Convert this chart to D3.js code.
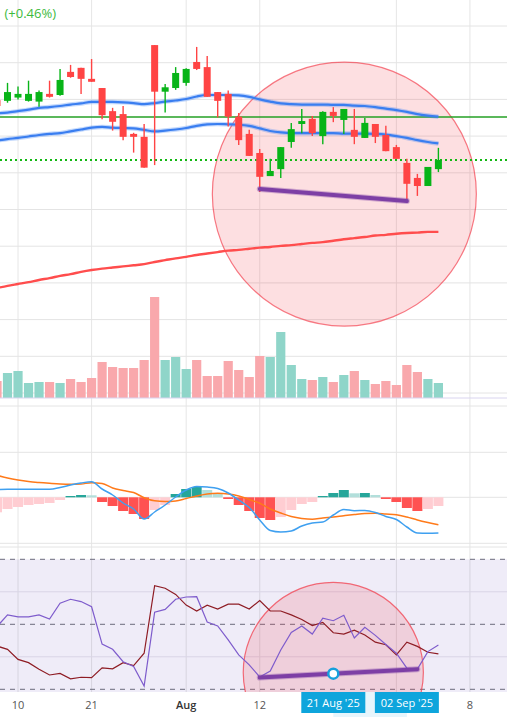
<!DOCTYPE html>
<html>
<head>
<meta charset="utf-8">
<script src="https://cdn.jsdelivr.net/npm/d3@7"></script>
<style>
  body { margin: 0; background: #fff; }
  svg { display: block; font-family: "Open Sans", sans-serif; }
</style>
</head>
<body>
<div id="chart"></div>
<script>
// Trading days on screen (the first one is cut by the left edge).
const dates = [
  "2025-07-08", "2025-07-09", "2025-07-10", "2025-07-11", "2025-07-14", "2025-07-15", "2025-07-16",
  "2025-07-17", "2025-07-18", "2025-07-21", "2025-07-22", "2025-07-23", "2025-07-24", "2025-07-25",
  "2025-07-28", "2025-07-29", "2025-07-30", "2025-07-31", "2025-08-01", "2025-08-04", "2025-08-05",
  "2025-08-06", "2025-08-07", "2025-08-08", "2025-08-11", "2025-08-12", "2025-08-13", "2025-08-14",
  "2025-08-15", "2025-08-18", "2025-08-19", "2025-08-20", "2025-08-21", "2025-08-22", "2025-08-25",
  "2025-08-26", "2025-08-27", "2025-08-28", "2025-08-29", "2025-09-02", "2025-09-03", "2025-09-04",
  "2025-09-05"
];
const open = [179.8, 179.6, 180.5, 179.6, 179.4, 181.5, 181.2, 187.5, 188.6, 185.6, 183.1, 176.8, 176.0, 170.6,
  169.8, 194.8, 182.1, 183.1, 184.5, 190.2, 188.8, 182.0, 181.5, 175.3, 170.6, 165.4, 159.1, 161.0, 168.4,
  173.3, 174.7, 170.0, 176.6, 174.4, 171.7, 169.5, 173.3, 170.3, 167.0, 162.7, 158.6, 156.4, 161.0];
const high = [180.7, 184.5, 183.5, 185.1, 182.4, 185.1, 188.3, 189.4, 188.6, 191.0, 183.1, 177.7, 178.2, 170.9,
  173.3, 194.8, 184.2, 188.8, 188.5, 194.3, 191.8, 182.0, 182.4, 176.3, 171.7, 166.5, 163.8, 167.0, 173.6,
  177.4, 175.5, 176.8, 177.9, 177.4, 177.4, 174.9, 173.3, 172.8, 167.6, 163.8, 159.7, 161.6, 166.8];
const low = [177.7, 179.1, 180.0, 179.4, 178.0, 180.5, 181.0, 185.9, 181.5, 184.8, 174.6, 171.5, 168.9, 165.5,
  161.4, 162.1, 176.4, 182.6, 183.7, 188.0, 180.7, 175.1, 172.6, 167.6, 164.6, 154.8, 159.1, 158.6, 166.8,
  170.8, 170.0, 167.8, 173.8, 170.6, 167.8, 169.5, 168.1, 165.9, 163.8, 152.0, 153.7, 156.4, 160.2];
const close = [178.2, 182.0, 181.5, 181.5, 182.0, 180.7, 185.3, 186.1, 185.6, 184.8, 175.7, 173.9, 169.8, 169.8,
  161.4, 182.1, 183.3, 187.2, 188.3, 188.3, 180.7, 179.6, 175.3, 168.9, 164.6, 158.9, 160.5, 167.0, 171.9,
  174.1, 170.8, 176.6, 175.5, 177.4, 169.8, 173.6, 169.8, 165.9, 163.8, 157.0, 156.4, 161.6, 163.5];
// Volume, millions.
const volume = [3.4, 5.0, 5.4, 3.0, 3.2, 3.2, 3.0, 3.8, 3.2, 4.0, 7.2, 6.2, 6.0, 6.0, 7.6, 20.2, 7.6, 8.2, 5.8,
  7.6, 4.4, 4.4, 7.4, 5.6, 4.2, 8.4, 8.2, 13.2, 6.6, 3.8, 3.6, 4.2, 3.2, 4.6, 5.4, 3.6, 2.8, 3.4, 2.6, 6.6,
  5.2, 3.8, 3.0];
// Envelope bands and long moving average.
const bandUpper = [176.2, 176.4, 176.8, 177.2, 177.7, 177.9, 178.2, 178.6, 178.9, 179.3, 179.3, 179.3, 179.2,
  179.0, 178.7, 179.0, 179.4, 179.7, 180.1, 180.8, 181.2, 181.2, 181.2, 181.1, 180.7, 180.0, 179.4, 178.9,
  178.7, 178.6, 178.6, 178.6, 178.5, 178.5, 178.3, 178.2, 177.9, 177.5, 177.1, 176.6, 176.0, 175.6, 175.3];
const bandLower = [168.8, 169.2, 169.5, 169.9, 170.3, 170.6, 170.8, 171.3, 171.8, 172.3, 172.5, 172.3, 172.2,
  172.1, 171.7, 171.3, 171.5, 171.8, 172.2, 172.8, 173.2, 173.3, 173.2, 173.1, 172.8, 172.1, 171.4, 171.0,
  170.8, 170.8, 170.8, 170.8, 170.8, 170.7, 170.7, 170.7, 170.6, 170.4, 170.0, 169.5, 168.9, 168.4, 168.0];
const maLong = [128.6, 129.2, 129.7, 130.2, 130.8, 131.3, 131.9, 132.4, 133.0, 133.5, 133.9, 134.2, 134.5,
  134.8, 135.1, 135.7, 136.2, 136.7, 137.1, 137.6, 138.0, 138.4, 138.8, 139.0, 139.3, 139.6, 139.8, 140.1,
  140.3, 140.6, 140.9, 141.1, 141.5, 141.9, 142.2, 142.5, 142.9, 143.1, 143.4, 143.6, 143.7, 143.9, 143.9];
// MACD.
const macdLine = [0.78, 0.80, 0.81, 0.81, 0.81, 0.81, 0.98, 1.23, 1.43, 1.56, 0.83, 0.23, -0.57, -1.17, -2.17,
  -1.47, -0.77, 0.03, 0.73, 1.08, 1.03, 0.88, 0.43, -0.27, -1.02, -2.27, -3.32, -3.47, -3.37, -2.87, -2.57,
  -2.47, -1.77, -1.22, -1.34, -1.32, -1.52, -1.92, -2.22, -2.97, -3.57, -3.60, -3.57];
const signalLine = [2.20, 1.93, 1.73, 1.58, 1.48, 1.40, 1.33, 1.30, 1.33, 1.46, 1.38, 0.93, 0.68, 0.48, -0.04,
  -0.35, -0.42, -0.37, -0.12, 0.13, 0.33, 0.40, 0.33, 0.13, -0.22, -0.60, -1.17, -1.57, -1.92, -2.12, -2.20,
  -2.07, -1.97, -1.84, -1.72, -1.62, -1.60, -1.67, -1.74, -1.97, -2.27, -2.52, -2.74];
const macdHist = [-1.50, -1.17, -0.97, -0.77, -0.67, -0.57, -0.27, 0.13, 0.23, 0.20, -0.47, -0.87, -1.37, -1.67,
  -2.17, -1.27, -0.77, 0.33, 0.83, 1.03, 0.73, 0.33, -0.17, -0.77, -1.37, -2.07, -2.27, -1.97, -1.27, -0.67,
  -0.47, 0.13, 0.43, 0.73, 0.40, 0.43, 0.23, -0.17, -0.47, -1.07, -1.37, -1.17, -0.87];
// Oscillator panel.
const rsiLine = [49.3, 52.9, 52.3, 52.3, 52.9, 51.6, 56.5, 57.7, 57.0, 55.4, 43.9, 42.3, 38.5, 37.0, 31.0,
  53.7, 54.6, 57.7, 58.4, 58.5, 50.7, 49.5, 45.2, 40.6, 37.5, 33.8, 35.6, 42.1, 47.5, 49.5, 47.0, 51.9, 51.1,
  52.8, 45.8, 49.1, 46.6, 43.8, 41.1, 36.5, 36.2, 41.6, 43.6];
const oscLine = [43.3, 42.3, 39.2, 38.2, 36.2, 34.4, 34.9, 33.2, 33.7, 33.6, 36.6, 36.3, 38.2, 37.3, 41.1,
  61.9, 61.1, 59.2, 55.9, 54.1, 55.9, 54.7, 56.2, 56.2, 54.7, 57.3, 54.1, 54.1, 52.9, 51.5, 49.6, 50.6, 47.4,
  47.0, 48.2, 46.7, 44.5, 43.7, 40.6, 44.5, 43.2, 41.4, 40.9];

const priceLevel = 175.2;
const lastPrice = 163.5;
const changeText = "(+0.46%)";
// Month gridline under the highlight labels carries no visible text.
const dateTicks = [
  { date: "2025-07-10", label: "10" }, { date: "2025-07-21", label: "21" },
  { date: "2025-08-01", label: "Aug", bold: true }, { date: "2025-08-12", label: "12" },
  { date: "2025-08-29", label: "" }, { date: "2025-09-08", label: "8" }
];
const highlightLabels = [{ date: "2025-08-21", label: "21 Aug '25" }, { date: "2025-09-02", label: "02 Sep '25" }];
const priceTrend = [{ date: "2025-08-12", v: 155.6 }, { date: "2025-09-02", v: 152.3 }];
const rsiTrend = [{ date: "2025-08-12", v: 33.6 }, { date: "2025-09-03", v: 36.2 }];
const priceCircle = { i: 33.05, v: 154.2, edgeI: 20.49 };
const rsiCircle = { i: 32, v: 35.2, edgeI: 23.43 };

const W = 507, H = 717;

// Index of a date; days after the last bar count as calendar days.
const dayIndex = d => {
  const k = dates.indexOf(d);
  if (k >= 0) return k;
  const last = new Date(dates[dates.length - 1]);
  return dates.length - 1 + Math.round((new Date(d) - last) / 864e5);
};

const svg = d3.select("#chart").append("svg")
  .attr("width", W).attr("height", H);

// Scales.
const x = d3.scaleLinear().domain([0, dates.length - 1]).range([-3, 438.4]);
const y = d3.scaleLinear().domain([100, 200]).range([393, 26]);
const yVol = d3.scaleLinear().domain([0, 25]).range([398, 273]);
const yMacd = d3.scaleLinear().domain([-5, 5]).range([547.3, 447.3]);
const yRsi = d3.scaleLinear().domain([30, 70]).range([689.3, 559.3]);
const idx = d3.range(dates.length);

const grid = "#e4e4e4";

// RSI background band.
svg.append("rect")
  .attr("x", 0).attr("y", yRsi(70)).attr("width", W).attr("height", 692 - yRsi(70))
  .attr("fill", "#efecf8");

// Vertical grid.
svg.append("g").selectAll("line")
  .data(dateTicks)
  .join("line")
  .attr("x1", d => x(dayIndex(d.date))).attr("x2", d => x(dayIndex(d.date)))
  .attr("y1", 0).attr("y2", 692)
  .attr("stroke", "rgba(0,0,0,0.1)").attr("stroke-width", 1);

// Horizontal grid, price panel.
svg.append("g").selectAll("line")
  .data(d3.range(100, 201, 10))
  .join("line")
  .attr("x1", 0).attr("x2", W)
  .attr("y1", d => y(d)).attr("y2", d => y(d))
  .attr("stroke", grid);

// Panel borders and MACD grid.
[406, 547].forEach(v => {
  svg.append("line").attr("x1", 0).attr("x2", W).attr("y1", v).attr("y2", v).attr("stroke", grid);
});
svg.append("g").selectAll("line")
  .data([4.5, 0, -4.6])
  .join("line")
  .attr("x1", 0).attr("x2", W)
  .attr("y1", d => yMacd(d)).attr("y2", d => yMacd(d))
  .attr("stroke", grid);

// RSI grid.
svg.append("g").selectAll("line")
  .data([70, 60, 50, 40, 30])
  .join("line")
  .attr("x1", 0).attr("x2", W)
  .attr("y1", d => yRsi(d)).attr("y2", d => yRsi(d))
  .attr("stroke", d => d % 20 === 10 ? "#6c6c7c" : "#d9d5e6")
  .attr("stroke-dasharray", d => d % 20 === 10 ? "5,5" : null);

/**
 * Price panel.
 */

// Highlight circle.
const circleR = (c) => x(c.i) - x(c.edgeI);
svg.append("circle")
  .attr("cx", x(priceCircle.i)).attr("cy", y(priceCircle.v)).attr("r", circleR(priceCircle))
  .attr("fill", "rgba(242,54,69,0.16)")
  .attr("stroke", "rgba(242,54,69,0.65)").attr("stroke-width", 1.2);

// Volume bars.
const up = i => close[i] >= open[i];
svg.append("g").selectAll("rect")
  .data(idx)
  .join("rect")
  .attr("x", i => x(i) - 4.6).attr("width", 9.2)
  .attr("y", i => yVol(volume[i])).attr("height", i => yVol(0) - yVol(volume[i]))
  .attr("fill", i => up(i) ? "#8fd5c9" : "#f9a8ac");
svg.append("line")
  .attr("x1", 0).attr("x2", W).attr("y1", yVol(0)).attr("y2", yVol(0))
  .attr("stroke", "#d9d4ef");

// Price level lines.
svg.append("line")
  .attr("x1", 0).attr("x2", W).attr("y1", y(priceLevel)).attr("y2", y(priceLevel))
  .attr("stroke", "#24a024").attr("stroke-width", 1.3);
svg.append("line")
  .attr("x1", 0).attr("x2", W).attr("y1", y(lastPrice)).attr("y2", y(lastPrice))
  .attr("stroke", "#12b812").attr("stroke-width", 2).attr("stroke-dasharray", "2,3");

// Long moving average.
const line = (arr, ys) => d3.line().curve(d3.curveMonotoneX)
  .x(i => x(i)).y(i => ys(arr[i]))(idx);
svg.append("path").attr("d", line(maLong, y))
  .attr("fill", "none").attr("stroke", "#ff4d4d").attr("stroke-width", 2.4);

// Envelope bands.
[bandUpper, bandLower].forEach(arr => {
  svg.append("path").attr("d", line(arr, y))
    .attr("fill", "none").attr("stroke", "rgba(59,130,246,0.3)").attr("stroke-width", 4.5);
  svg.append("path").attr("d", line(arr, y))
    .attr("fill", "none").attr("stroke", "#3a7ef0").attr("stroke-width", 2.2);
});

// Candles.
const candles = svg.append("g").selectAll("g")
  .data(idx)
  .join("g");
candles.append("line")
  .attr("x1", i => x(i)).attr("x2", i => x(i))
  .attr("y1", i => y(high[i])).attr("y2", i => y(low[i]))
  .attr("stroke", i => up(i) ? "#08b418" : "#ff4444").attr("stroke-width", 1.4);
candles.append("rect")
  .attr("x", i => x(i) - 3.5).attr("width", 7)
  .attr("y", i => y(Math.max(open[i], close[i])))
  .attr("height", i => Math.max(1, Math.abs(y(open[i]) - y(close[i]))))
  .attr("fill", i => up(i) ? "#08b418" : "#ff4444");

// Trend line on price.
const trendPath = (pts, ys) => d3.line().x(d => x(dayIndex(d.date))).y(d => ys(d.v))(pts);
svg.append("path").attr("d", trendPath(priceTrend, y))
  .attr("stroke", "rgba(125,63,165,0.35)").attr("stroke-width", 6).attr("stroke-linecap", "round");
svg.append("path").attr("d", trendPath(priceTrend, y))
  .attr("stroke", "#7d3fa5").attr("stroke-width", 4).attr("stroke-linecap", "round");

// Change text (the value before it is off the left edge).
svg.append("text")
  .attr("x", 56).attr("y", 18).attr("text-anchor", "end")
  .attr("font-size", 13).attr("fill", "#3dba3d")
  .text(changeText);

/**
 * MACD panel.
 */

const histColor = i => {
  const v = macdHist[i], prev = i > 0 ? macdHist[i - 1] : v;
  if (v >= 0) return v >= prev ? "#26a69a" : "#b2dfdb";
  return v < prev ? "#ff5252" : "#ffcdd2";
};
svg.append("g").selectAll("rect")
  .data(idx)
  .join("rect")
  .attr("x", i => x(i) - 5).attr("width", 10)
  .attr("y", i => yMacd(Math.max(0, macdHist[i])))
  .attr("height", i => Math.abs(yMacd(macdHist[i]) - yMacd(0)))
  .attr("fill", histColor);
svg.append("path").attr("d", line(signalLine, yMacd))
  .attr("fill", "none").attr("stroke", "#ff7a1a").attr("stroke-width", 1.5);
svg.append("path").attr("d", line(macdLine, yMacd))
  .attr("fill", "none").attr("stroke", "#3fa0f0").attr("stroke-width", 1.5);

/**
 * Oscillator panel.
 */

svg.append("defs").append("clipPath").attr("id", "rsiClip")
  .append("rect").attr("x", 0).attr("y", yRsi(70)).attr("width", W).attr("height", 692 - yRsi(70));

svg.append("circle")
  .attr("clip-path", "url(#rsiClip)")
  .attr("cx", x(rsiCircle.i)).attr("cy", yRsi(rsiCircle.v)).attr("r", circleR(rsiCircle))
  .attr("fill", "rgba(242,54,69,0.16)")
  .attr("stroke", "rgba(242,54,69,0.7)").attr("stroke-width", 1.2);

const straight = (arr, ys) => d3.line().x(i => x(i)).y(i => ys(arr[i]))(idx);
svg.append("path").attr("d", straight(oscLine, yRsi))
  .attr("fill", "none").attr("stroke", "#8e1c24").attr("stroke-width", 1.2);
svg.append("path").attr("d", straight(rsiLine, yRsi))
  .attr("fill", "none").attr("stroke", "#7e5ccc").attr("stroke-width", 1.2);

svg.append("path").attr("d", trendPath(rsiTrend, yRsi))
  .attr("stroke", "rgba(125,63,165,0.35)").attr("stroke-width", 6).attr("stroke-linecap", "round");
svg.append("path").attr("d", trendPath(rsiTrend, yRsi))
  .attr("stroke", "#7d3fa5").attr("stroke-width", 4).attr("stroke-linecap", "round");

// Handle at the date of the first highlight label.
const hI = dayIndex(highlightLabels[0].date);
const i0 = dayIndex(rsiTrend[0].date), i1 = dayIndex(rsiTrend[1].date);
const hV = rsiTrend[0].v + (rsiTrend[1].v - rsiTrend[0].v) * (hI - i0) / (i1 - i0);
svg.append("circle")
  .attr("cx", x(hI)).attr("cy", yRsi(hV)).attr("r", 5)
  .attr("fill", "#fff").attr("stroke", "#16a0dc").attr("stroke-width", 2.5);

/**
 * X axis.
 */

svg.append("g").selectAll("text")
  .data(dateTicks.filter(d => d.label))
  .join("text")
  .attr("x", d => x(dayIndex(d.date))).attr("y", 709)
  .attr("text-anchor", "middle").attr("font-size", 11)
  .attr("font-weight", d => d.bold ? 600 : 400)
  .attr("fill", d => d.bold ? "#333" : "#555")
  .text(d => d.label);

// Selected range highlight.
svg.append("rect")
  .attr("x", x(dayIndex(highlightLabels[0].date)))
  .attr("width", x(dayIndex(highlightLabels[1].date)) - x(dayIndex(highlightLabels[0].date)))
  .attr("y", 692).attr("height", H - 692)
  .attr("fill", "#e6f5fc");

const hl = svg.append("g").selectAll("g")
  .data(highlightLabels)
  .join("g")
  .attr("transform", d => `translate(${x(dayIndex(d.date))}, 692)`);
hl.append("rect")
  .attr("x", -32).attr("width", 64).attr("height", 21)
  .attr("fill", "#0ea5dc");
hl.append("text")
  .attr("y", 15).attr("text-anchor", "middle")
  .attr("font-size", 11).attr("fill", "#fff")
  .text(d => d.label);
</script>
</body>
</html>
